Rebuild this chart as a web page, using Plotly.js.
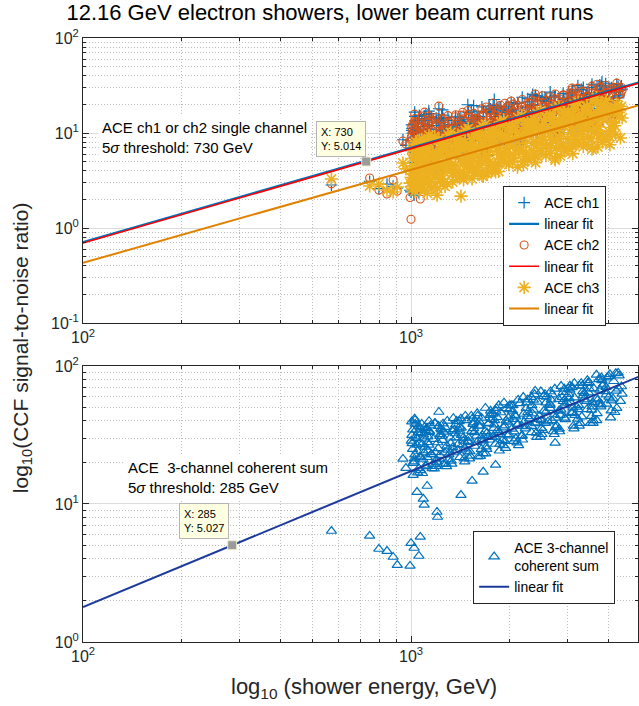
<!DOCTYPE html>
<html>
<head>
<meta charset="utf-8">
<script src="https://cdn.plot.ly/plotly-3.0.1.min.js"></script>
<style>html,body{margin:0;padding:0;background:#fff;}#plot{width:639px;height:706px;}</style>
</head>
<body>
<div id="plot"></div>
<script>
// Shower energy of each event (GeV)
const energy = [
  572,748,798,845,882,908,993,1000,1022,1067,1057,945,965,1005,1026,1030,1100,1216,1200,1205,
  1097,1090,1043,1420,1535,1660,1810,1780,2020,2390,2750,3100,3590,3160,4130,4400,4280,1040,1012,1120,
  1002,1048,1011,1035,1020,1057,1006,1028,1042,1015,1052,1024,
  1063,1095,1071,1102,1066,1088,1110,1075,1098,1060,1084,1105,
  1118,1152,1126,1160,1133,1147,1121,1165,1139,1129,
  1178,1214,1186,1228,1193,1207,1181,1222,1199,1232,
  1245,1283,1252,1296,1260,1277,1248,1290,1266,1301,
  1322,1364,1331,1378,1340,1357,1326,1371,1346,1385,
  1402,1446,1411,1458,1419,1437,1405,1452,1425,1464,
  1490,1538,1499,1552,1508,1527,1494,1545,1515,1559,
  1588,1638,1597,1652,1606,1627,1592,1645,1614,1660,
  1686,1740,1695,1755,1705,1728,1690,1748,1714,1762,
  1794,1851,1803,1866,1814,1838,1798,1859,1823,1874,
  1912,1972,1921,1988,1933,1958,1916,1981,1942,1996,
  2040,2104,2049,2120,2061,2088,2044,2112,2072,2128,
  2178,2245,2188,2262,2199,2230,2183,2254,2212,2270,
  2325,2398,2336,2416,2349,2380,2331,2408,2361,2424,
  2482,2560,2494,2578,2507,2541,2488,2570,2521,2586,
  2650,2732,2662,2752,2675,2712,2656,2744,2690,2760,
  2825,2912,2838,2934,2852,2891,2830,2924,2868,2944,
  3020,3114,3034,3138,3050,3092,3026,3126,3066,3148,
  3226,3326,3240,3352,3258,3302,3232,3340,3275,3364,
  3440,3548,3456,3576,3475,3522,3448,3562,3494,3590,
  3676,3790,3692,3820,3712,3762,3684,3806,3734,3836,
  3920,4040,3945,4075,3962,4012,3930,4060,
  4180,4290,4210,4350,4240,
  1008,1017,1033,1046,1055,1069,1081,1092,1108,1124,
  1137,1155,1169,1185,1196,1211,1226,1240,1256,1270,
  1287,1305,1318,1336,1352,1368,1390,1408,1422,1441,
  1460,1478,1496,1512,1531,1549,1566,1583,1602,1620,
  1641,1663,1681,1702,1722,1745,1768,1789,1808,1832,
  1855,1878,1900,1926,1950,1975,2000,2030,2058,2085,
  2115,2145,2172,2205,2236,2266,2298,2330,2362,2395,
  2430,2465,2500,2540,2578,2615,2655,2695,2735,2778,
  2820,2865,2910,2955,3000,3050,3100,3150,3205,3260,
  3315,3370,3430,3490,3550,3610,3670,3735,3800,3865,
  3935,4005,4080,4150,4225,4310,4380,1028,1078,1135
];
// ACE ch1 signal-to-noise
const snrCh1 = [
  2.84,3.1,2.6,2.9,2.75,2.64,2.5,2.4,2.22,2.6,2.35,8.5,7.4,12.2,16.6,13.5,15.0,18.0,4.0,4.4,
  4.6,5.0,5.5,5.4,6.6,7.2,8.0,19.5,21.0,24.5,11.0,28.5,15.0,16.0,22.0,29.0,31.0,9.5,8.9,4.9,
  8.29,7.06,9.96,7.91,12.26,4.55,10.68,10.4,7.39,4.88,11.7,10.43,
  5.07,9.42,9.87,8.59,4.72,9.0,15.64,7.66,6.67,15.29,6.99,13.62,
  8.32,14.79,11.75,5.89,16.98,7.76,12.02,4.68,10.97,9.55,
  7.18,14.0,4.53,8.43,14.33,6.11,6.7,12.77,13.06,13.4,
  9.4,5.93,14.23,14.56,11.56,6.07,17.5,6.97,10.79,6.81,
  5.92,13.54,10.52,10.04,6.48,12.07,12.3,10.8,6.63,12.64,
  13.44,13.0,9.3,6.15,14.74,13.14,10.6,8.88,12.55,9.97,
  19.85,9.72,8.46,19.4,8.87,17.0,6.43,12.2,12.53,11.1,
  15.0,5.96,14.3,12.17,8.6,9.02,10.6,18.85,14.97,7.5,
  8.6,16.39,16.76,16.2,8.4,19.26,9.21,17.97,5.81,10.5,
  22.53,8.97,13.89,8.76,10.3,17.48,12.1,7.4,18.0,18.74,
  15.62,13.61,8.59,16.36,17.9,17.2,7.66,17.53,13.3,12.99,
  13.9,11.58,16.36,12.99,20.14,7.48,17.53,17.0,12.13,8.02,
  8.38,15.3,16.8,14.5,7.81,14.9,23.8,12.68,11.04,23.0,
  13.94,24.79,19.7,9.87,25.5,13.01,19.8,7.84,18.0,16.0,
  12.07,23.55,7.62,14.5,24.09,10.28,11.26,21.48,21.96,22.6,
  15.9,10.3,23.5,24.63,19.56,10.27,27.0,11.78,18.25,11.51,
  10.07,22.6,17.9,17.4,11.04,20.54,21.0,18.3,11.29,21.51,
  23.07,22.4,15.96,10.55,25.29,22.54,18.3,15.24,21.53,17.1,
  31.5,16.69,14.53,30.2,15.6,28.8,11.03,20.9,21.5,18.4,
  26.0,10.31,24.7,21.04,14.9,15.61,18.34,32.6,25.9,12.98,
  14.89,28.4,29.04,34.5,14.55,32.0,15.96,31.14,10.07,19.2,
  33.0,15.56,24.11,15.2,17.9,30.35,21.0,13.0,
  26.94,23.48,14.8,28.2,32.5,
  11.2,6.3,9.1,13.0,7.7,10.1,6.0,12.5,8.4,11.0,
  7.3,14.4,9.4,6.7,12.0,8.0,10.6,15.4,7.0,11.9,
  8.8,13.6,6.2,10.9,9.0,14.8,7.6,12.3,9.8,6.6,
  13.8,10.2,16.4,8.3,12.6,9.6,15.2,7.2,11.5,14.0,
  9.0,16.8,10.8,13.1,7.9,17.6,11.9,9.5,14.9,12.2,
  18.5,9.2,15.3,11.3,19.0,10.0,14.6,17.0,11.0,15.8,
  20.5,12.5,16.0,10.8,18.7,13.6,21.3,11.7,16.7,14.2,
  22.2,13.0,18.0,15.6,23.0,12.9,19.4,16.8,24.0,14.0,
  20.8,17.6,26.2,15.1,22.5,18.9,27.0,16.0,23.8,20.0,
  28.5,17.2,25.2,21.6,30.3,18.1,26.6,22.8,31.4,19.1,
  27.7,23.5,30.0,20.2,28.8,24.6,31.2,15.0,14.2,16.0
];
// ACE ch2 signal-to-noise
const snrCh2 = [
  2.92,3.36,2.51,2.28,3.2,2.45,2.1,1.24,3.2,2.02,2.6,8.24,7.66,11.6,15.8,12.8,16.6,19.2,3.9,4.5,
  4.2,4.9,5.2,5.6,6.8,7.0,7.8,20.7,21.7,25.7,10.5,29.8,14.5,15.0,20.0,28.0,30.5,10.2,9.5,5.0,
  9.09,6.15,12.26,7.56,10.2,5.11,8.29,11.18,6.74,5.73,9.52,13.14,
  5.3,8.59,11.59,6.99,5.95,9.87,13.62,9.42,6.38,12.72,7.84,10.58,
  10.23,14.13,9.77,6.61,13.19,8.13,10.97,5.5,8.91,12.02,
  8.43,11.38,5.7,9.25,12.48,7.52,6.4,10.62,14.66,10.14,
  7.82,6.66,11.05,15.25,10.55,7.13,14.23,8.77,11.83,5.93,
  7.45,14.85,9.15,12.35,6.19,10.04,13.54,8.16,6.95,11.53,
  10.43,14.08,8.49,7.22,11.99,16.54,11.44,7.74,15.44,9.52,
  17.29,11.96,8.09,16.14,9.95,13.42,6.73,10.91,14.71,8.87,
  13.97,7.0,11.36,15.32,9.24,7.86,13.04,18.0,12.45,8.42,
  8.21,13.63,18.82,13.02,8.8,17.56,10.82,14.6,7.32,11.87,
  18.32,11.29,15.23,7.64,12.38,16.7,10.07,8.57,14.22,19.63,
  17.53,10.57,8.99,14.92,20.6,14.25,9.64,19.23,11.85,15.99,
  14.92,10.09,20.14,12.41,16.74,8.39,13.61,18.35,11.07,9.42,
  8.77,14.22,19.18,11.56,9.84,16.33,22.55,15.6,10.55,21.04,
  17.16,23.68,16.38,11.08,22.1,13.62,18.38,9.21,14.94,20.15,
  14.18,19.14,9.59,15.55,20.98,12.65,10.76,17.86,24.65,17.05,
  13.23,11.26,18.68,25.79,17.84,12.07,24.07,14.83,20.02,10.03,
  12.68,25.28,15.58,21.03,10.54,17.08,23.05,13.89,11.82,19.62,
  17.9,24.15,14.56,12.39,20.56,28.39,19.64,13.28,26.5,16.33,
  29.68,20.53,13.89,27.71,17.07,23.04,11.55,18.72,25.25,15.23,
  24.17,12.12,19.64,26.5,15.97,13.59,22.56,31.14,21.54,14.57,
  14.23,23.62,32.6,22.55,15.26,30.43,18.75,25.31,12.68,20.56,
  31.79,19.59,26.44,13.25,21.48,28.98,17.47,14.87,
  30.22,18.22,15.51,25.73,33.5,
  10.6,6.9,8.6,12.0,7.2,9.9,6.5,11.2,7.9,12.9,
  7.0,13.5,9.0,6.1,11.8,8.8,10.2,14.0,7.7,12.5,
  9.3,13.0,6.9,11.1,8.5,15.6,8.0,11.6,10.7,7.0,
  13.2,9.4,15.8,8.9,12.9,10.0,14.3,7.7,12.1,14.8,
  9.6,16.0,11.4,12.8,8.6,16.9,12.6,9.0,15.5,11.2,
  17.9,9.9,14.4,12.2,18.4,10.8,15.0,16.4,11.9,14.7,
  19.6,13.1,17.4,10.2,18.0,12.9,20.5,12.4,17.0,14.9,
  21.4,13.7,18.9,15.0,22.2,13.4,20.1,16.1,23.0,14.6,
  21.7,17.0,24.9,15.8,21.3,19.6,26.0,16.6,22.9,20.8,
  27.4,17.8,24.3,22.3,29.0,18.8,25.5,23.6,30.2,19.9,
  26.8,24.4,29.1,21.1,27.8,25.6,30.1,14.2,15.1,15.2
];
// ACE ch3 signal-to-noise
const snrCh3 = [
  3.28,2.77,2.9,2.5,2.4,2.7,2.97,3.4,3.0,3.6,2.9,4.83,4.2,5.4,6.5,4.08,7.8,8.5,2.22,2.6,
  2.5,2.8,3.1,2.17,3.3,3.5,3.9,10.5,11.0,12.5,5.2,15.5,6.95,7.85,13.1,14.4,19.5,3.2,2.6,2.33,
  2.74,5.6,4.05,8.09,3.29,4.76,6.73,2.44,6.0,3.7,5.1,3.01,
  8.41,3.42,4.95,7.0,2.54,6.23,3.85,5.31,3.13,2.85,5.82,4.21,
  7.31,2.65,6.51,4.02,5.54,3.27,2.98,6.08,4.4,8.78,
  4.2,5.79,3.41,3.11,6.35,4.6,9.17,3.74,5.4,7.63,
  3.26,6.65,4.82,9.62,3.92,5.66,8.0,2.91,7.13,4.4,
  10.12,4.12,5.96,8.42,3.06,7.5,4.63,6.38,3.76,3.43,
  8.83,3.21,7.87,4.85,6.7,3.95,3.6,7.34,5.32,10.61,
  5.11,7.05,4.15,3.79,7.72,5.6,11.17,4.55,6.58,9.29,
  3.99,8.14,5.9,11.77,4.79,6.93,9.79,3.55,8.72,5.38,
  12.36,5.03,7.28,10.28,3.73,9.16,5.65,7.8,4.59,4.19,
  10.84,3.94,9.66,5.96,8.22,4.85,4.42,9.02,6.53,13.03,
  6.28,8.66,5.1,4.66,9.5,6.88,13.73,5.59,8.08,11.42,
  4.91,10.02,7.26,14.49,5.9,8.53,12.05,4.38,10.74,6.63,
  15.29,6.23,9.0,12.72,4.62,11.33,6.99,9.65,5.68,5.18,
  13.43,4.88,11.97,7.38,10.19,6.0,5.48,11.17,8.09,16.14,
  7.79,10.75,6.33,5.78,11.78,8.54,17.03,6.94,10.03,14.17,
  6.09,12.42,9.0,17.96,7.31,10.57,14.94,5.42,13.31,8.21,
  19.02,7.75,11.2,15.83,5.75,14.1,8.7,12.0,7.07,6.45,
  16.71,6.07,14.89,9.19,12.68,7.47,6.81,13.9,10.07,20.09,
  9.67,13.35,7.87,7.18,14.64,10.6,21.16,8.62,12.46,17.6,
  7.6,15.5,11.23,22.4,9.12,13.19,18.64,6.77,16.61,10.24,
  23.65,9.63,13.93,19.67,7.14,17.53,10.81,14.92,8.79,8.02,
  20.71,7.52,18.45,11.38,15.71,9.25,8.44,17.22,
  11.95,16.49,9.72,8.86,18.08,
  4.5,3.4,5.9,3.9,7.2,2.9,4.5,6.6,3.6,5.2,
  7.9,4.3,2.7,5.9,4.9,8.4,3.3,6.3,4.4,2.75,
  7.4,5.0,8.9,3.8,6.1,4.6,9.5,3.45,6.9,5.0,
  8.1,3.55,6.0,4.3,8.6,5.5,3.9,7.0,10.3,5.0,
  4.0,7.6,9.3,5.7,3.9,6.5,8.6,11.0,4.6,7.0,
  9.9,5.3,12.1,6.1,4.9,9.0,7.3,11.5,5.5,8.7,
  13.2,6.4,9.7,5.0,7.8,12.3,10.0,6.6,14.1,8.2,
  5.6,11.0,9.2,13.4,7.4,10.6,15.8,8.4,11.8,6.9,
  13.6,9.6,16.5,12.4,8.6,14.9,10.9,17.8,7.9,13.0,
  16.0,10.9,19.3,12.0,8.7,15.2,20.5,11.6,16.8,13.6,
  22.0,10.4,17.4,12.8,20.0,15.0,19.0,7.6,8.6,9.4
];
// ACE 3-channel coherent sum signal-to-noise
const snrSum = [
  6.37,5.87,4.72,4.56,4.13,3.61,3.56,5.2,4.8,5.77,4.2,21.2,18.2,39.5,41.5,38.0,36.0,46.4,8.75,8.05,
  9.84,10.9,12.2,11.6,14.7,17.1,19.2,45.0,52.0,65.9,27.7,70.0,38.6,44.0,58.0,62.7,89.0,30.0,34.5,13.5,
  28.7,16.9,25.0,34.5,20.3,18.1,31.5,22.8,26.8,16.2,33.0,21.3,
  22.0,29.7,17.5,25.9,35.7,21.0,18.7,32.6,23.6,27.7,16.7,34.1,
  35.3,22.8,30.8,18.1,26.8,37.0,21.8,19.4,33.7,24.4,
  18.0,36.7,23.7,32.0,18.8,27.9,38.4,22.6,20.2,35.1,
  31.1,18.7,38.2,24.7,33.3,19.6,29.0,40.0,23.6,21.0,
  27.6,32.4,19.5,39.9,25.7,34.7,20.5,30.3,41.8,24.6,
  39.7,28.7,33.8,20.3,41.5,26.8,36.2,21.3,31.5,43.5,
  23.9,41.5,30.1,35.3,21.3,43.5,28.1,37.9,22.3,33.0,
  28.0,25.0,43.4,31.4,36.9,22.2,45.4,29.3,39.5,23.3,
  49.6,29.2,26.0,45.2,32.8,38.5,23.2,47.3,30.6,41.2,
  37.6,51.9,30.6,27.2,47.3,34.3,40.3,24.3,49.5,32.0,
  26.6,39.3,54.2,31.9,28.5,49.4,35.8,42.1,25.4,51.8,
  47.2,27.8,41.1,56.8,33.4,29.8,51.8,37.5,44.1,26.6,
  36.7,49.5,29.2,43.1,59.5,35.1,31.3,54.3,39.3,46.2,
  59.5,38.4,51.8,30.5,45.1,62.3,36.7,32.7,56.8,41.2,
  30.6,62.4,40.3,54.3,32.0,47.3,65.3,38.5,34.3,59.6,
  53.1,32.0,65.3,42.1,56.9,33.5,49.5,68.3,40.3,35.9,
  47.3,55.5,33.5,68.3,44.1,59.5,35.0,51.8,71.5,42.1,
  68.5,49.7,58.3,35.2,71.8,46.3,62.5,36.8,54.4,75.1,
  41.3,71.7,52.0,61.0,36.8,75.1,48.5,65.4,38.5,57.0,
  48.5,43.3,75.1,54.4,64.0,38.5,78.7,50.8,68.5,40.4,
  86.3,50.8,45.3,78.7,57.0,67.0,40.4,82.4,53.2,71.8,
  65.4,87.0,53.2,47.4,82.4,59.7,70.1,42.3,
  46.2,68.4,88.5,55.6,49.5,
  27.5,19.8,30.8,24.2,36.8,21.7,27.1,31.8,19.0,28.0,
  33.2,23.0,29.5,38.5,21.0,25.3,31.0,34.6,19.4,36.0,
  26.4,22.8,30.2,33.9,23.6,37.6,27.0,21.8,35.6,30.1,
  25.2,40.3,28.5,24.0,33.7,38.9,26.3,31.2,22.0,36.8,
  42.0,28.8,33.6,25.0,38.2,44.0,30.5,35.5,27.2,42.5,
  33.0,46.0,29.0,37.0,40.2,31.3,48.5,35.0,28.5,43.0,
  38.0,53.5,31.0,45.0,36.5,57.0,41.5,33.0,48.0,38.8,
  55.0,43.5,35.5,60.5,46.5,39.5,52.0,62.0,44.5,37.0,
  57.5,48.0,64.5,41.0,54.0,67.0,45.5,59.0,50.5,72.0,
  43.0,63.5,55.5,76.0,48.0,68.5,58.0,80.0,52.5,74.0,
  62.0,84.0,56.0,77.5,66.0,85.0,71.0,40.5,38.0,39.8
];
// Linear fits (log-log), evaluated at the axis ends
const fitEnergy = [100, 5000];
const fitCh1 = [0.71, 34.5];
const fitCh2 = [0.695, 33.9];
const fitCh3 = [0.43, 19.8];
const fitSum = [1.79, 84.5];
// 5-sigma threshold data tips
const tipTopE = [730], tipTopY = [5.014];
const tipBotE = [285], tipBotY = [5.027];

const tickX = [100, 1000], tickXText = ['10<sup>2</sup>', '10<sup>3</sup>'];
const tickY1 = [0.1, 1, 10, 100], tickY1Text = ['10<sup>-1</sup>', '10<sup>0</sup>', '10<sup>1</sup>', '10<sup>2</sup>'];
const tickY2 = [1, 10, 100], tickY2Text = ['10<sup>0</sup>', '10<sup>1</sup>', '10<sup>2</sup>'];

const C_BLUE = '#0072BD', C_ORANGE = '#D95319', C_YELLOW = '#EDB120';

const traces = [
  {x: energy, y: snrCh1, type: 'scatter', mode: 'markers', name: 'ACE ch1', legendrank: 1,
   marker: {symbol: 'cross-thin-open', size: 8.5, color: C_BLUE, line: {color: C_BLUE, width: 1.2}}, xaxis: 'x', yaxis: 'y'},
  {x: energy, y: snrCh2, type: 'scatter', mode: 'markers', name: 'ACE ch2', legendrank: 3,
   marker: {symbol: 'circle-open', size: 8, color: C_ORANGE, line: {color: C_ORANGE, width: 1.1}}, xaxis: 'x', yaxis: 'y'},
  {x: energy, y: snrCh3, type: 'scatter', mode: 'markers', name: 'ACE ch3', legendrank: 5,
   marker: {symbol: 'asterisk-open', size: 11, color: C_YELLOW, line: {color: C_YELLOW, width: 1.6}}, xaxis: 'x', yaxis: 'y'},
  {x: fitEnergy, y: fitCh1, type: 'scatter', mode: 'lines', name: 'linear fit', legendrank: 2,
   line: {color: C_BLUE, width: 2.2}, xaxis: 'x', yaxis: 'y'},
  {x: fitEnergy, y: fitCh2, type: 'scatter', mode: 'lines', name: 'linear fit', legendrank: 4,
   line: {color: '#FF0000', width: 1.6}, xaxis: 'x', yaxis: 'y'},
  {x: fitEnergy, y: fitCh3, type: 'scatter', mode: 'lines', name: 'linear fit', legendrank: 6,
   line: {color: '#DF8200', width: 2}, xaxis: 'x', yaxis: 'y'},
  {x: tipTopE, y: tipTopY, type: 'scatter', mode: 'markers', showlegend: false,
   marker: {symbol: 'square', size: 9, color: '#9b9b9b', line: {color: '#f0f0d0', width: 1}}, xaxis: 'x', yaxis: 'y'},
  {x: energy, y: snrSum, type: 'scatter', mode: 'markers', name: 'ACE 3-channel<br>coherent sum', legend: 'legend2', legendrank: 1,
   marker: {symbol: 'triangle-up-open', size: 9, color: C_BLUE, line: {color: C_BLUE, width: 1.2}}, xaxis: 'x2', yaxis: 'y2'},
  {x: fitEnergy, y: fitSum, type: 'scatter', mode: 'lines', name: 'linear fit', legend: 'legend2', legendrank: 2,
   line: {color: '#1C3A9A', width: 2}, xaxis: 'x2', yaxis: 'y2'},
  {x: tipBotE, y: tipBotY, type: 'scatter', mode: 'markers', showlegend: false,
   marker: {symbol: 'square', size: 9, color: '#9b9b9b', line: {color: '#f0f0d0', width: 1}}, xaxis: 'x2', yaxis: 'y2'}
];

const axBase = {
  type: 'log', showline: true, linecolor: '#262626', linewidth: 1, mirror: 'ticks',
  ticks: 'inside', ticklen: 6, tickwidth: 1, tickcolor: '#262626',
  showgrid: true, gridcolor: '#dcdcdc', gridwidth: 1, zeroline: false,
  tickmode: 'array', tickfont: {size: 16, color: '#262626'},
  minor: {ticks: 'inside', ticklen: 3, tickcolor: '#262626', tickwidth: 1, dtick: 'D1',
          showgrid: true, gridcolor: '#bdbdbd', griddash: '1px,2px', gridwidth: 1}
};

const FONT = 'Liberation Sans, Arial, Helvetica, sans-serif';
const layout = {
  width: 639, height: 706,
  margin: {l: 83, r: 1, t: 38, b: 64},
  paper_bgcolor: '#ffffff', plot_bgcolor: '#ffffff',
  font: {family: FONT, size: 15, color: '#000'},
  title: {text: '12.16 GeV electron showers, lower beam current runs', font: {family: FONT, size: 22, color: '#000'},
          xref: 'container', yref: 'container', x: 0.104, xanchor: 'left', y: 0.982, yanchor: 'middle'},
  xaxis: Object.assign({}, axBase, {range: [2, 3.692], domain: [0, 1], anchor: 'y', tickvals: tickX, ticktext: tickXText}),
  yaxis: Object.assign({}, axBase, {range: [-1, 2], domain: [0.528, 1], anchor: 'x', tickvals: tickY1, ticktext: tickY1Text}),
  xaxis2: Object.assign({}, axBase, {range: [2, 3.692], domain: [0, 1], anchor: 'y2', tickvals: tickX, ticktext: tickXText}),
  yaxis2: Object.assign({}, axBase, {range: [0, 2], domain: [0, 0.457], anchor: 'x2', tickvals: tickY2, ticktext: tickY2Text}),
  showlegend: true,
  legend: {x: 0.757, y: 0.755, xref: 'paper', yref: 'paper', xanchor: 'left', yanchor: 'top',
           bgcolor: '#ffffff', bordercolor: '#262626', borderwidth: 1, font: {family: FONT, size: 14, color: '#000'},
           tracegroupgap: 0, traceorder: 'normal'},
  legend2: {x: 0.703, y: 0.184, xref: 'paper', yref: 'paper', xanchor: 'left', yanchor: 'top',
            bgcolor: '#ffffff', bordercolor: '#262626', borderwidth: 1, font: {family: FONT, size: 14, color: '#000'},
            tracegroupgap: 0, traceorder: 'normal'},
  annotations: [
    {xref: 'paper', yref: 'paper', x: 0.027, y: 0.835, xanchor: 'left', yanchor: 'middle', showarrow: false, align: 'left',
     text: 'ACE ch1 or ch2 single channel<br>5<i>σ</i> threshold: 730 GeV', bgcolor: '#ffffff', borderpad: 3,
     font: {family: FONT, size: 15, color: '#000'}},
    {xref: 'paper', yref: 'paper', x: 0.074, y: 0.273, xanchor: 'left', yanchor: 'middle', showarrow: false, align: 'left',
     text: 'ACE\u00A0 3-channel coherent sum<br>5<i>σ</i> threshold: 285 GeV', bgcolor: '#ffffff', borderpad: 3,
     font: {family: FONT, size: 15, color: '#000'}},
    {xref: 'paper', yref: 'paper', x: 0.464, y: 0.833, xanchor: 'center', yanchor: 'middle', showarrow: false, align: 'left',
     text: 'X: 730<br>Y: 5.014', bgcolor: '#ffffe1', bordercolor: '#b4b4b4', borderwidth: 1, borderpad: 4,
     font: {family: FONT, size: 11, color: '#000'}},
    {xref: 'paper', yref: 'paper', x: 0.218, y: 0.201, xanchor: 'center', yanchor: 'middle', showarrow: false, align: 'left',
     text: 'X: 285<br>Y: 5.027', bgcolor: '#ffffe1', bordercolor: '#b4b4b4', borderwidth: 1, borderpad: 4,
     font: {family: FONT, size: 11, color: '#000'}},
    {xref: 'paper', yref: 'paper', x: -0.11, y: 0.488, xanchor: 'center', yanchor: 'middle', showarrow: false, textangle: -90,
     text: 'log<sub>10</sub>(CCF signal-to-noise ratio)', font: {family: FONT, size: 21, color: '#262626'}},
    {xref: 'paper', yref: 'paper', x: 0.506, y: -0.076, xanchor: 'center', yanchor: 'middle', showarrow: false,
     text: 'log<sub>10</sub> (shower energy, GeV)', font: {family: FONT, size: 22, color: '#262626'}}
  ]
};

Plotly.newPlot('plot', traces, layout, {displayModeBar: false, staticPlot: true});
</script>
</body>
</html>
